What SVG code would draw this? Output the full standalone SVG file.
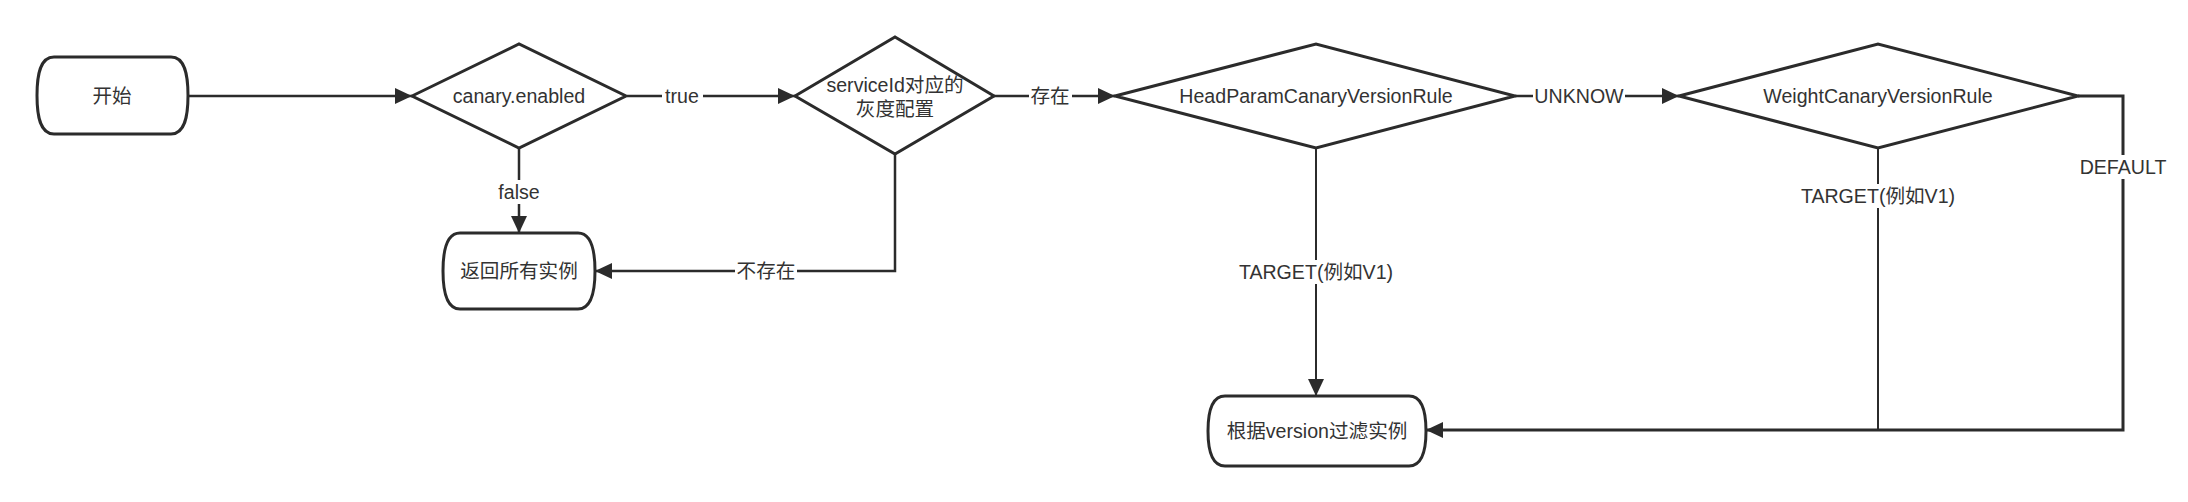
<svg xmlns="http://www.w3.org/2000/svg" width="2188" height="502" viewBox="0 0 2188 502">
<style>
.node{fill:#fff;stroke:#2b2b2b;stroke-width:3}
.t{font-family:"Liberation Sans","Noto Sans CJK SC",sans-serif;font-size:19.6px;fill:#333;text-anchor:middle;dominant-baseline:central}
.c{fill:none;stroke:#2b2b2b;stroke-width:2.5}
.thin{stroke-width:2}
.thick{stroke-width:3}
.bg{fill:#fff}
</style>
<defs>
<marker id="arr" markerUnits="userSpaceOnUse" markerWidth="18" markerHeight="16" refX="17" refY="8" orient="auto">
<path d="M0,0 L17,8 L0,16 Z" fill="#2b2b2b"/>
</marker>
</defs>
<rect width="2188" height="502" fill="#fff"/>
<g id="connectors">
<path class="c" d="M188,96 H412" marker-end="url(#arr)"/>
<path class="c" d="M627,96 H795" marker-end="url(#arr)"/>
<path class="c" d="M519,148 V233" marker-end="url(#arr)"/>
<path class="c" d="M994,96 H1115" marker-end="url(#arr)"/>
<path class="c" d="M895,154 V271 H595" marker-end="url(#arr)"/>
<path class="c" d="M1515,96 H1679" marker-end="url(#arr)"/>
<path class="c thin" d="M1316,148 V396" marker-end="url(#arr)"/>
<path class="c thin" d="M1878,148 V430"/>
<path class="c thick" d="M2078,96 H2123 V430 H1426" marker-end="url(#arr)"/>
<rect class="bg" x="662" y="84" width="41" height="24"/>
<text class="t" x="682" y="96">true</text>
<rect class="bg" x="497" y="180" width="44" height="24"/>
<text class="t" x="519" y="192">false</text>
<rect class="bg" x="1029" y="84" width="43" height="24"/>
<text class="t" x="1050" y="96">存在</text>
<rect class="bg" x="735" y="259" width="62" height="24"/>
<text class="t" x="766" y="271">不存在</text>
<rect class="bg" x="1533" y="84" width="92" height="24"/>
<text class="t" x="1579" y="96">UNKNOW</text>
<rect class="bg" x="1237" y="260" width="158" height="24"/>
<text class="t" x="1316" y="272">TARGET(例如V1)</text>
<rect class="bg" x="1799" y="184" width="158" height="24"/>
<text class="t" x="1878" y="196">TARGET(例如V1)</text>
<rect class="bg" x="2077" y="155" width="92" height="24"/>
<text class="t" x="2123" y="167">DEFAULT</text>
</g>
<g id="start">
<path class="node" d="M54,57 H171 C185,57 188,75 188,95.5 C188,116 185,134 171,134 H54 C40,134 37,116 37,95.5 C37,75 40,57 54,57 Z"/>
<text class="t" x="112" y="96">开始</text>
</g>
<g id="canary-enabled">
<path class="node" d="M412,96 L519,44 L626,96 L519,148 Z"/>
<text class="t" x="519" y="96">canary.enabled</text>
</g>
<g id="return-all">
<path class="node" d="M460,233 H578 C592,233 595,251 595,271 C595,291 592,309 578,309 H460 C446,309 443,291 443,271 C443,251 446,233 460,233 Z"/>
<text class="t" x="519" y="271">返回所有实例</text>
</g>
<g id="service-config">
<path class="node" d="M795,96 L895,37 L994,96 L895,154 Z"/>
<text class="t" x="895" y="85">serviceId对应的</text>
<text class="t" x="895" y="109">灰度配置</text>
</g>
<g id="head-param-rule">
<path class="node" d="M1115,96 L1316,44 L1515,96 L1316,148 Z"/>
<text class="t" x="1316" y="96">HeadParamCanaryVersionRule</text>
</g>
<g id="weight-rule">
<path class="node" d="M1679,96 L1878,44 L2078,96 L1878,148 Z"/>
<text class="t" x="1878" y="96">WeightCanaryVersionRule</text>
</g>
<g id="filter-by-version">
<path class="node" d="M1225,396 H1409 C1423,396 1426,413 1426,431 C1426,449 1423,466 1409,466 H1225 C1211,466 1208,449 1208,431 C1208,413 1211,396 1225,396 Z"/>
<text class="t" x="1317" y="431">根据version过滤实例</text>
</g>
</svg>
